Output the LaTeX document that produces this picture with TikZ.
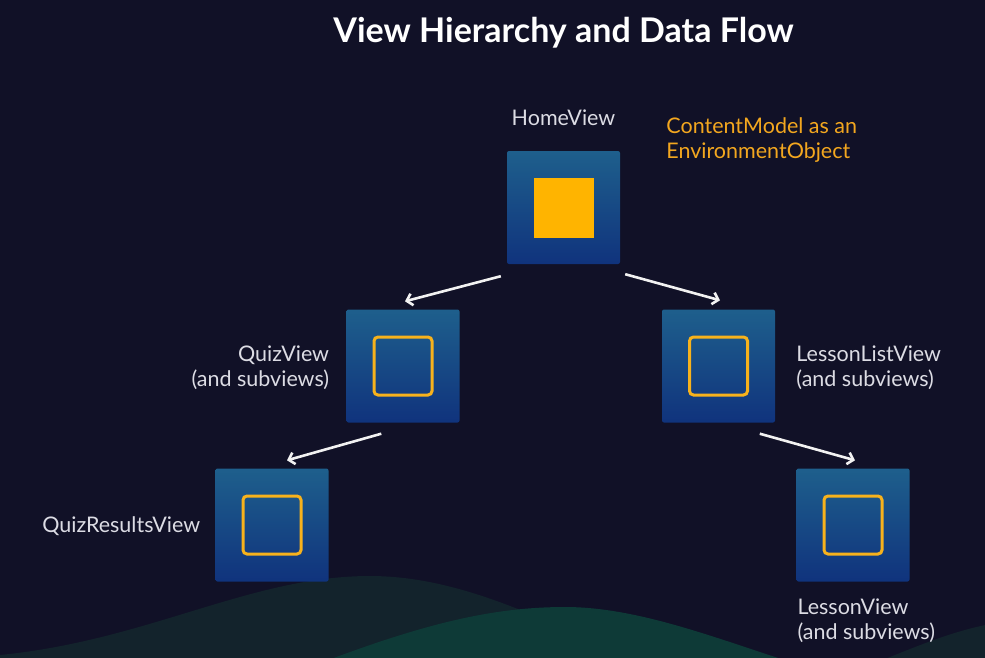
\documentclass[tikz,border=0pt]{standalone}
\usepackage{fontspec}
\setmainfont{Lato}
\usetikzlibrary{arrows.meta,calc}
\definecolor{bg}{HTML}{111127}
\definecolor{hilldark}{HTML}{13232C}
\definecolor{hilllight}{HTML}{0E3A37}
\definecolor{boxtop}{HTML}{1E5F8C}
\definecolor{boxbot}{HTML}{10337D}
\definecolor{gold}{HTML}{FFB400}
\definecolor{goldline}{HTML}{F7B21C}
\definecolor{labelgray}{HTML}{DCDCE4}
\definecolor{orangetext}{HTML}{F3A71F}
\definecolor{arrowwhite}{HTML}{F2F2F2}
\tikzset{
  viewbox/.style={rectangle, rounded corners=2pt, minimum width=113pt, minimum height=113pt,
    inner sep=0pt, top color=boxtop, bottom color=boxbot, draw=none},
  innerbox/.style={rectangle, rounded corners=4pt, minimum width=58pt, minimum height=58pt,
    inner sep=0pt, draw=goldline, line width=3pt},
  innerfill/.style={rectangle, minimum width=60pt, minimum height=60pt, inner sep=0pt, fill=gold},
  lbl/.style={text=labelgray, inner sep=0pt, font=\fontsize{21.5}{25}\selectfont},
  flow/.style={draw=arrowwhite, line width=2.6pt, -{Straight Barb[length=5.5pt,width=12pt]}}
}
\begin{document}
\begin{tikzpicture}[x=1pt,y=-1pt]
\useasboundingbox (0,0) rectangle (985,657);
\fill[bg] (-5,-5) rectangle (990,665);
\fill[hilldark] (-5,665) -- (-5,656) -- (0,655) .. controls (150,640) and (250,576) .. (370,576)
  .. controls (470,576) and (560,630) .. (650,665) -- cycle;
\fill[hilllight] (315,665) .. controls (420,625) and (490,607) .. (565,607)
  .. controls (640,607) and (720,640) .. (800,665) -- cycle;
\fill[hilldark] (870,665) .. controls (920,645) and (950,632) .. (990,624) -- (990,665) -- cycle;

\node[text=white, inner sep=0pt, font=\fontsize{34}{40}\bfseries] (title) at (563.5,33) {View Hierarchy and Data Flow};

\node[viewbox] (home) at (563.5,207.5) {};
\node[viewbox] (quiz) at (403,366) {};
\node[viewbox] (lesslist) at (718.5,366) {};
\node[viewbox] (qres) at (272,525) {};
\node[viewbox] (lessv) at (853,525) {};

\node[innerfill] (homein) at (home.center) {};
\node[innerbox] (quizin) at (quiz.center) {};
\node[innerbox] (lesslistin) at (lesslist.center) {};
\node[innerbox] (qresin) at (qres.center) {};
\node[innerbox] (lessvin) at (lessv.center) {};

\node[lbl] (homelbl) at ($(home.north)+(0,-33)$) {HomeView};
\node[lbl, text=orangetext, anchor=west, align=left] (envlbl) at ($(home.east)+(46,-67)$) {ContentModel as an\\EnvironmentObject};
\node[lbl, anchor=east, align=right] (quizlbl) at ($(quiz.west)+(-17,2)$) {QuizView\\(and subviews)};
\node[lbl, anchor=west, align=left] (lesslistlbl) at ($(lesslist.east)+(21,2)$) {LessonListView\\(and subviews)};
\node[lbl, anchor=east] (qreslbl) at ($(qres.west)+(-15,1)$) {QuizResultsView};
\node[lbl, anchor=west, align=left] (lessvlbl) at ($(lessv.south west)+(1,39)$) {LessonView\\(and subviews)};

\coordinate (a1s) at ($(home.south west)+(-6,12)$);
\coordinate (a1e) at ($(quiz.north)+(2,-8)$);
\coordinate (a2s) at ($(home.south east)+(5,10)$);
\coordinate (a2e) at ($(lesslist.north)+(1.5,-9)$);
\coordinate (a3s) at ($(quiz.south west)+(35,11)$);
\coordinate (a3e) at ($(qres.north)+(15,-8)$);
\coordinate (a4s) at ($(lesslist.south west)+(98,11)$);
\coordinate (a4e) at ($(lessv.north)+(2,-8)$);
\draw[flow] (a1s) -- (a1e);
\draw[flow] (a2s) -- (a2e);
\draw[flow] (a3s) -- (a3e);
\draw[flow] (a4s) -- (a4e);
\end{tikzpicture}
\end{document}
